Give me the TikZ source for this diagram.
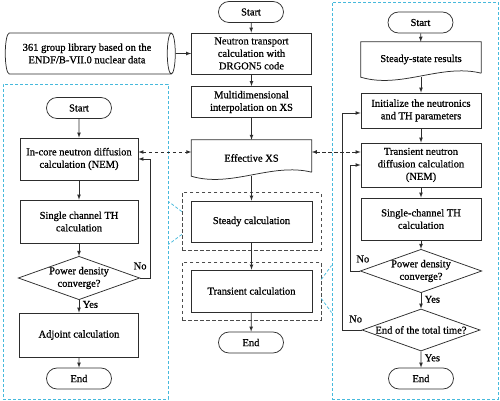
\documentclass[tikz,border=0pt]{standalone}
\usepackage{fontspec}
\setmainfont{Liberation Serif}
\newfontfamily\diagfont{Liberation Serif}[FakeBold=0.8]
\usepackage{xcolor}
\usetikzlibrary{positioning, arrows.meta, shapes.geometric, shapes.misc, fit}

\definecolor{panelblue}{RGB}{70,185,220}
\definecolor{linegray}{RGB}{45,45,45}

\tikzset{
  every node/.style={font=\diagfont\fontsize{10.5}{12.5}\selectfont},
  box/.style={draw=linegray, line width=0.75pt, rectangle, align=center, minimum width=120pt, inner sep=2pt},
  term/.style={draw=linegray, line width=0.75pt, rounded rectangle, minimum width=67pt, minimum height=21pt, inner sep=1pt},
  decision/.style={draw=linegray, line width=0.75pt, diamond, aspect=2.8, align=center, minimum width=118pt, minimum height=42pt, inner sep=0pt},
  doc/.style={rectangle, align=center, minimum width=120pt, inner sep=2pt},
  grp/.style={draw=linegray!85, dash pattern=on 3.5pt off 2.5pt, line width=0.75pt, inner xsep=8.5pt},
  panel/.style={draw=panelblue, dash pattern=on 3pt off 2pt, line width=0.9pt},
  callout/.style={panelblue, dash pattern=on 3pt off 2pt, line width=0.75pt},
  arr/.style={-latex, draw=linegray, line width=0.75pt},
  link/.style={latex-latex, draw=linegray, dash pattern=on 3.5pt off 2.5pt, line width=0.75pt},
}

% document box: flat top, wavy bottom
\newcommand{\docshape}[1]{%
  \draw[draw=linegray, line width=0.75pt] ([yshift=4pt]#1.south east) -- (#1.north east) -- (#1.north west) -- (#1.south west)
    .. controls +(40pt,-12pt) and +(-40pt,10pt) .. ([yshift=4pt]#1.south east);}

\begin{document}
\begin{tikzpicture}[x=1pt, y=-1pt]
\useasboundingbox (0,0) rectangle (500,401);

% cyan dashed panels
\node[panel, minimum width=165pt, minimum height=315pt] (leftpanel) at (85.5,241.5) {};
\node[panel, minimum width=166pt, minimum height=397pt] (rightpanel) at (415,200.5) {};

% main column
\node[term] (start) at (251,12) {Start};
\node[box, minimum height=41pt] (nt) at (251.5,53.5) {Neutron transport\\calculation with\\DRGON5 code};
\node[box, minimum height=31pt] (md) at (251.5,102) {Multidimensional\\interpolation on XS};
\node[doc, minimum height=36pt] (xs) at (251.5,158) {Effective XS};
\docshape{xs}
\node[box, minimum width=121pt, minimum height=41pt] (steady) at (251.5,221.5) {Steady calculation};
\node[grp, fit=(steady), inner ysep=8pt] (steadygrp) {};
\node[box, minimum width=121pt, minimum height=42pt] (trans) at (251.5,291) {Transient calculation};
\node[grp, fit=(trans), inner ysep=7.5pt] (transgrp) {};
\node[term] (end) at (251,342.5) {End};

\node[draw=linegray, line width=0.75pt, cylinder, shape aspect=0.3, minimum width=41pt, minimum height=170pt, align=center] (lib) at (87,53.5) {361 group library based on the\\ENDF/B-VII.0 nuclear data};

\draw[arr] (lib) -- (nt);
\draw[arr] (start) -- (nt);
\draw[arr] (nt) -- (md);
\draw[arr] (md) -- (xs);
\draw[arr] (xs.south) -- (steady);
\draw[arr] (steady) -- (trans);
\draw[arr] (trans) -- (end);

% steady-state search (left)
\node[term] (lstart) at (79,108) {Start};
\node[box, minimum width=118pt, minimum height=42pt] (incore) at (79,159) {In-core neutron diffusion\\calculation (NEM)};
\node[box, minimum width=118pt, minimum height=43pt] (lth) at (79,221.5) {Single channel TH\\calculation};
\node[decision] (ldec) at (79,278) {Power density\\converge?};
\node[box, minimum width=119pt, minimum height=44pt] (adj) at (79,335) {Adjoint calculation};
\node[term] (lend) at (79,378.5) {End};
\coordinate (lloop) at (150,278);

\draw[arr] (lstart) -- (incore);
\draw[arr] (incore) -- (lth);
\draw[arr] (lth) -- (ldec);
\draw[arr] (ldec) -- node[right, pos=0.35] {Yes} (adj);
\draw[arr] (adj) -- (lend);
\draw[arr] (ldec.east) -- (lloop) |- (incore.east);
\node (lno) at ([yshift=12pt]ldec.east) {No};

% transient loop (right)
\node[term] (rstart) at (420.5,22.5) {Start};
\node[doc, minimum height=35pt] (ssr) at (421,59.5) {Steady-state results};
\docshape{ssr}
\node[box, minimum height=35pt] (init) at (421,110.5) {Initialize the neutronics\\and TH parameters};
\node[box, minimum height=44pt] (tnd) at (421,165) {Transient neutron\\diffusion calculation\\(NEM)};
\node[box, minimum height=42pt] (rth) at (421,219) {Single-channel TH\\calculation};
\node[decision] (rdec1) at (421,271) {Power density\\converge?};
\node[decision] (rdec2) at (421,330) {End of the total time?};
\node[term] (rend) at (421,378.5) {End};
\coordinate (rloop1) at (350,271);
\coordinate (rloop2) at (342,330);

\draw[arr] (rstart) -- (ssr);
\draw[arr] (ssr.south) -- (init);
\draw[arr] (init) -- (tnd);
\draw[arr] (tnd) -- (rth);
\draw[arr] (rth) -- (rdec1);
\draw[arr] (rdec1) -- node[right, pos=0.4] {Yes} (rdec2);
\draw[arr] (rdec2) -- node[right, pos=0.4] {Yes} (rend);
\draw[arr] (rdec1.west) -- (rloop1) |- (tnd.west);
\draw[arr] (rdec2.west) -- (rloop2) |- ([yshift=-2.5pt]init.west);
\node (rno1) at ([xshift=3pt, yshift=12pt]rdec1.west) {No};
\node (rno2) at ([xshift=-6pt, yshift=11pt]rdec2.west) {No};

% data exchange
\draw[link] ([yshift=7pt]incore.east) -- ([yshift=7pt]incore.east -| xs.west);
\draw[link] ([yshift=6pt]xs.east) -- ([yshift=6pt]xs.east -| tnd.west);

% callouts
\draw[callout] ([yshift=10pt]steadygrp.west) -- ([yshift=20pt]steadygrp.west -| leftpanel.east);
\draw[callout] ([yshift=-13pt]steadygrp.west) -- ([yshift=-23pt]steadygrp.west -| leftpanel.east);
\draw[callout] ([yshift=11.5pt]transgrp.east) -- ([yshift=25.5pt]transgrp.east -| rightpanel.west);
\draw[callout] ([yshift=-7.5pt]transgrp.east) -- ([yshift=-21.5pt]transgrp.east -| rightpanel.west);
\end{tikzpicture}
\end{document}
